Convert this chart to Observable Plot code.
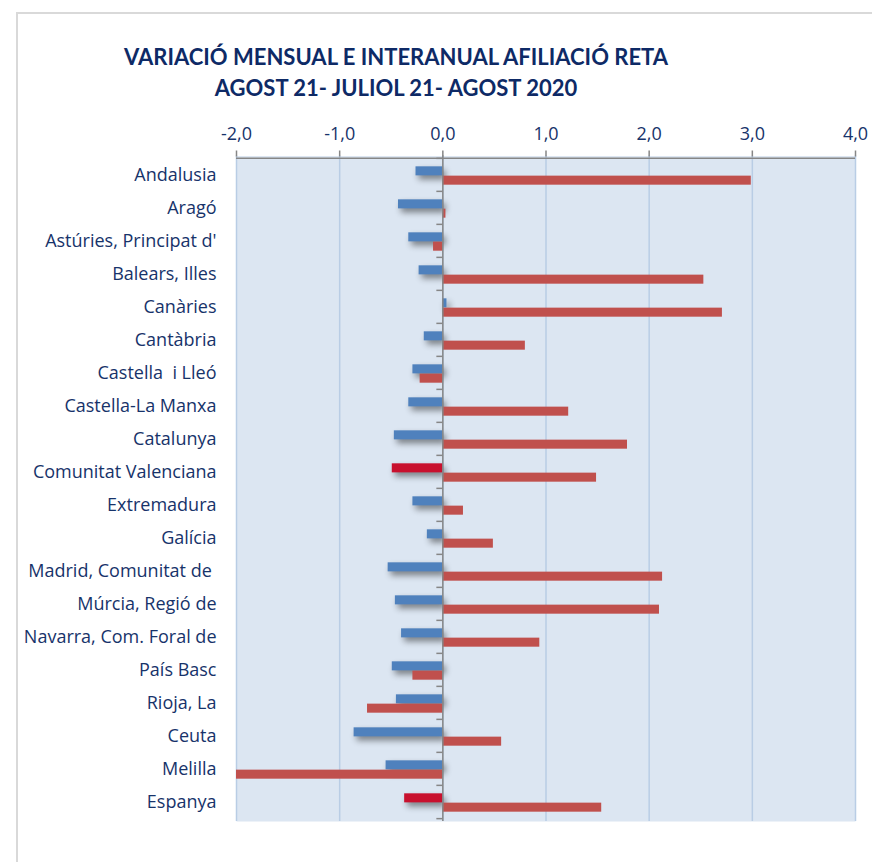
<!DOCTYPE html>
<html>
<head>
<meta charset="utf-8">
<script src="https://cdn.jsdelivr.net/npm/d3@7"></script>
<script src="https://cdn.jsdelivr.net/npm/@observablehq/plot@0.6"></script>
<style>
  html, body { margin: 0; padding: 0; background: #fff; }
  #wrap { position: relative; width: 872px; height: 862px; overflow: hidden; font-family: Lato, "Open Sans", sans-serif; }
  #border { position: absolute; left: 16px; top: 12px; width: 900px; height: 900px; border-left: 2px solid #D9D9D9; border-top: 2px solid #D9D9D9; }
  #title { position: absolute; left: 0; top: 41px; width: 792px; text-align: center; color: #0E2A66; font-weight: bold; font-size: 22px; line-height: 31px; }
  #chart { position: absolute; left: 0; top: 100px; }
  #chart svg text { white-space: pre; }
</style>
</head>
<body>
<div id="wrap">
  <div id="border"></div>
  <div id="title">VARIACIÓ MENSUAL E INTERANUAL AFILIACIÓ RETA<br>AGOST 21- JULIOL 21- AGOST 2020</div>
  <div id="chart"></div>
</div>
<script>
const regions = ["Andalusia", "Aragó", "Astúries, Principat d'", "Balears, Illes", "Canàries", "Cantàbria", "Castella  i Lleó", "Castella-La Manxa", "Catalunya", "Comunitat Valenciana", "Extremadura", "Galícia", "Madrid, Comunitat de ", "Múrcia, Regió de", "Navarra, Com. Foral de", "País Basc", "Rioja, La", "Ceuta", "Melilla", "Espanya"];
// Variació mensual (agost 21 - juliol 21)
const mensual = [-0.26, -0.43, -0.33, -0.23, 0.04, -0.18, -0.29, -0.33, -0.47, -0.49, -0.29, -0.15, -0.53, -0.46, -0.40, -0.49, -0.45, -0.86, -0.55, -0.37];
// Variació interanual (agost 21 - agost 2020)
const interanual = [2.99, 0.03, -0.09, 2.53, 2.71, 0.80, -0.22, 1.22, 1.79, 1.49, 0.20, 0.49, 2.13, 2.10, 0.94, -0.29, -0.73, 0.57, -2.00, 1.54];
const highlighted = ["Comunitat Valenciana", "Espanya"];
const xTicks = [-2, -1, 0, 1, 2, 3, 4];

const dataM = regions.map((r, i) => ({region: r, value: mensual[i]}));
const dataI = regions.map((r, i) => ({region: r, value: interanual[i]}));

const marginTop = 55.5, marginBottom = 40, plotH = 665.5;
const bw = plotH / regions.length;
const fmt = d => d.toFixed(1).replace(".", ",");

const blue = "#4F81BD", crimson = "#C8102E", red = "#C0504D", grid = "#B9CDE5", axisGray = "#868686", txt = "#17336A";
const labelFont = "'Open Sans', Lato, sans-serif";

const chart = Plot.plot({
  width: 872,
  height: marginTop + plotH + marginBottom,
  marginTop,
  marginBottom,
  marginLeft: 236,
  marginRight: 17,
  style: {fontFamily: labelFont, fontSize: "18px", color: txt, background: "transparent", overflow: "visible"},
  x: {domain: [-2, 4], axis: null, label: null},
  y: {domain: regions, padding: 0, axis: null, label: null},
  marks: [
    Plot.frame({fill: "#DCE6F2", stroke: null}),
    Plot.ruleX(xTicks, {stroke: grid, strokeWidth: 1.5}),
    // blue: monthly
    Plot.barX(dataM, {
      y: "region", x: "value",
      fill: d => highlighted.includes(d.region) ? crimson : blue,
      insetTop: bw * 0.25, insetBottom: bw * 0.47
    }),
    // red: year-on-year
    Plot.barX(dataI, {
      y: "region", x: "value",
      fill: red,
      insetTop: bw * 0.53, insetBottom: bw * 0.19
    }),
    Plot.ruleX([0], {stroke: axisGray, strokeWidth: 1.5}),
    // category tick marks on the zero axis
    Plot.ruleY(regions, {y: d => d, x1: -0.058, x2: 0, dy: -bw / 2, stroke: axisGray, strokeWidth: 1.5}),
    Plot.ruleY([regions[regions.length - 1]], {y: d => d, x1: -0.058, x2: 0, dy: bw / 2, stroke: axisGray, strokeWidth: 1.5}),
    // top axis line
    Plot.ruleY([regions[0]], {y: d => d, dy: -bw / 2, stroke: axisGray, strokeWidth: 1.5}),
    Plot.axisX(xTicks, {anchor: "top", label: null, tickSize: 6, tickPadding: 10, tickFormat: fmt, stroke: axisGray, strokeWidth: 1.5, fill: txt, fontSize: 18}),
    Plot.axisY({anchor: "left", label: null, tickSize: 0, tickPadding: 20, fill: txt, fontSize: 18})
  ]
});
document.getElementById("chart").appendChild(chart);
// soft shadow beneath the monthly bars
d3.select(chart).selectAll("g[aria-label='bar']").filter((d, i) => i === 0)
  .style("filter", "drop-shadow(3px 4px 3px rgba(0,0,0,0.45))");
</script>
</body>
</html>
